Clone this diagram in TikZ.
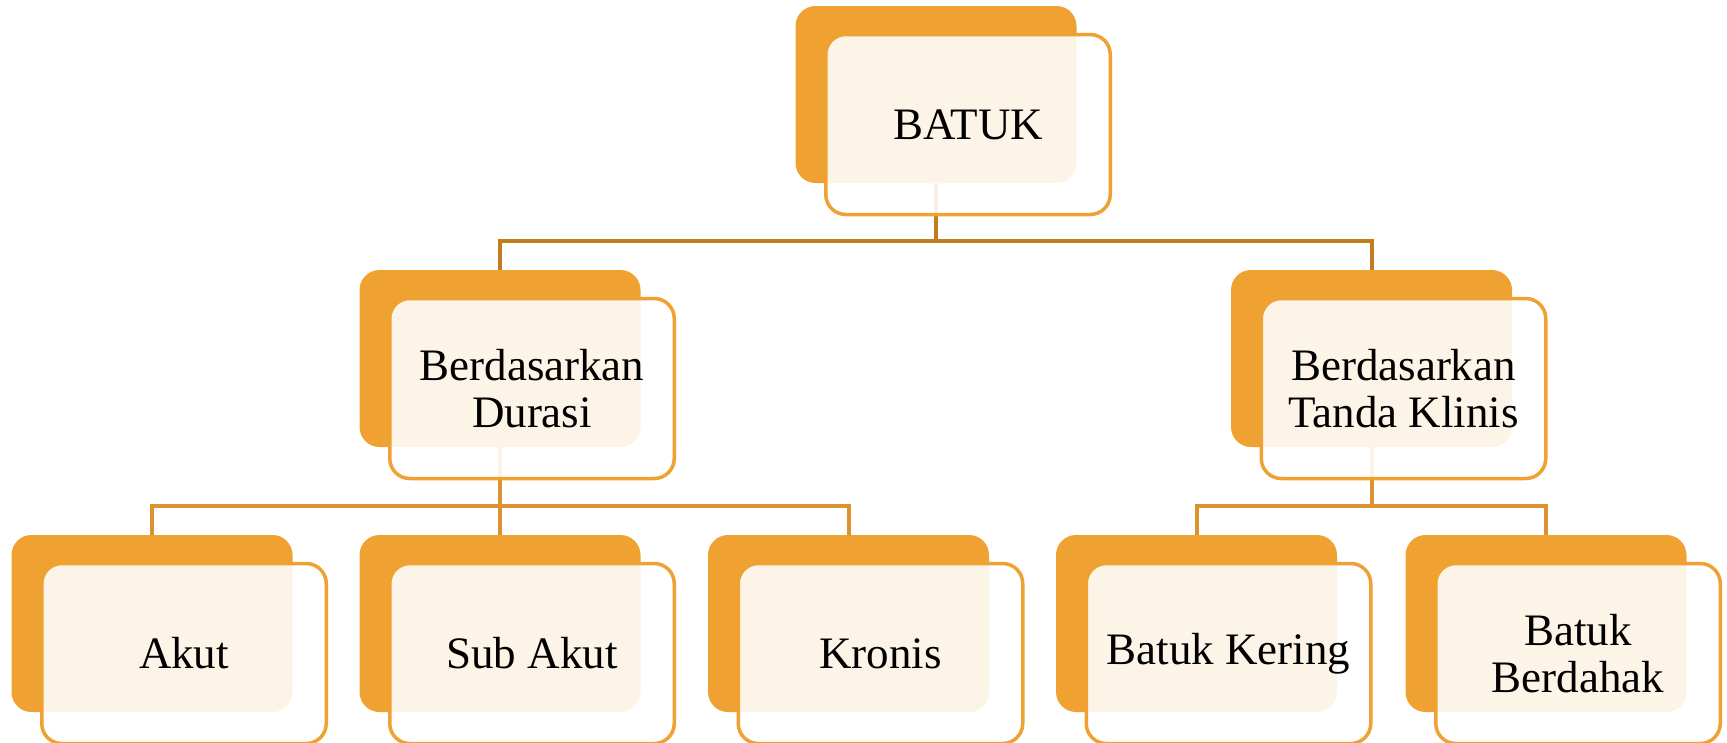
\documentclass[tikz,border=0pt]{standalone}
\usepackage{fontspec}
\setmainfont{Liberation Serif}
\usetikzlibrary{positioning}
\definecolor{batukorange}{HTML}{EFA231}
\definecolor{linkdark}{HTML}{C27D1F}
\definecolor{linklight}{HTML}{DC922E}
\pgfdeclarelayer{background}
\pgfsetlayers{background,main}
\tikzset{
  backbox/.style={rectangle, rounded corners=20pt, fill=batukorange,
    minimum width=281pt, minimum height=177pt, inner sep=0pt},
  frontbox/.style={rectangle, rounded corners=20pt, draw=batukorange,
    line width=3.5pt, fill=white, fill opacity=0.89, text opacity=1,
    minimum width=284.5pt, minimum height=180pt, inner sep=0pt,
    align=center, font=\fontsize{45}{47}\selectfont},
  linkA/.style={linkdark, line width=4pt},
  linkB/.style={linklight, line width=4pt}
}

\begin{document}
\begin{tikzpicture}[x=1pt,y=-1pt]
  \useasboundingbox (0,0) rectangle (1727,742);
  \def\dx{32};
  \def\dy{30};
  % back boxes
  \node[backbox] (batuk-b) at (936,94.5) {};
  \node[backbox] (durasi-b) at (500,358.5) {};
  \node[backbox] (klinis-b) at (1371.5,358.5) {};
  \node[backbox] (akut-b) at (152,623.5) {};
  \node[backbox] (subakut-b) at (500,623.5) {};
  \node[backbox] (kronis-b) at (848.5,623.5) {};
  \node[backbox] (kering-b) at (1196.5,623.5) {};
  \node[backbox] (berdahak-b) at (1546,623.5) {};
  % front boxes
  \node[frontbox] (batuk) at ([shift={(\dx,\dy)}]batuk-b.center) {BATUK};
  \node[frontbox] (durasi) at ([shift={(\dx,\dy)}]durasi-b.center) {Berdasarkan\\Durasi};
  \node[frontbox] (klinis) at ([shift={(\dx,\dy)}]klinis-b.center) {Berdasarkan\\Tanda Klinis};
  \node[frontbox] (akut) at ([shift={(\dx,\dy)}]akut-b.center) {Akut};
  \node[frontbox] (subakut) at ([shift={(\dx,\dy)}]subakut-b.center) {Sub Akut};
  \node[frontbox] (kronis) at ([shift={(\dx,\dy)}]kronis-b.center) {Kronis};
  \node[frontbox] (kering) at ([shift={(\dx,\dy)}]kering-b.center) {Batuk Kering};
  \node[frontbox] (berdahak) at ([shift={(\dx,\dy)}]berdahak-b.center) {Batuk\\Berdahak};
  % connectors
  \begin{pgfonlayer}{background}
    \draw[linkA] (batuk-b.south) -- ++(0,58) coordinate (bus1);
    \draw[linkA] (durasi-b.north) |- (bus1) -| (klinis-b.north);
    \draw[linkB] (durasi-b.south) -- ++(0,59) coordinate (bus2);
    \draw[linkB] (akut-b.north) |- (bus2) -| (kronis-b.north);
    \draw[linkB] (bus2) -- (subakut-b.north);
    \draw[linkB] (klinis-b.south) -- ++(0,59) coordinate (bus3);
    \draw[linkB] (kering-b.north) |- (bus3) -| (berdahak-b.north);
  \end{pgfonlayer}
\end{tikzpicture}
\end{document}
